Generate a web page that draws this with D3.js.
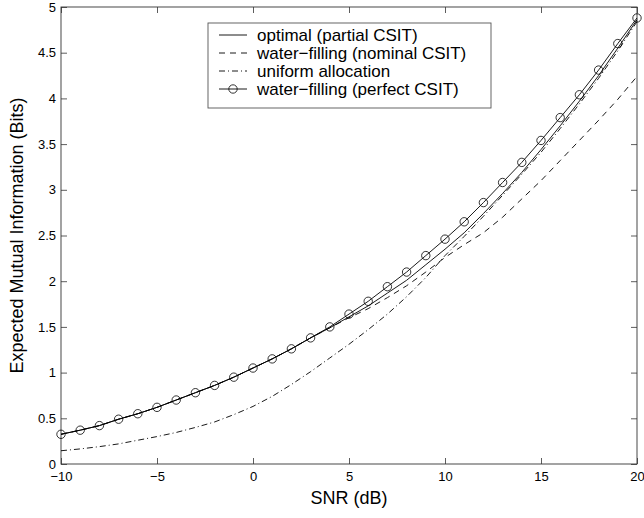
<!DOCTYPE html>
<html>
<head>
<meta charset="utf-8">
<script src="https://cdn.jsdelivr.net/npm/d3@7"></script>
<style>
  body { margin: 0; background: #fff; }
  svg { display: block; font-family: "Liberation Sans", Arial, Helvetica, sans-serif; }
</style>
</head>
<body>
<script>
// SNR grid in dB
var snr = d3.range(-10, 21, 1);

// water-filling with perfect CSIT (circles)
var perfectCsit = [0.325, 0.37, 0.42, 0.49, 0.55, 0.62, 0.70, 0.78, 0.86, 0.95,
  1.05, 1.15, 1.26, 1.38, 1.50, 1.64, 1.78, 1.94, 2.10, 2.28,
  2.46, 2.65, 2.86, 3.08, 3.30, 3.54, 3.79, 4.04, 4.31, 4.60, 4.88];

// optimal with partial CSIT (solid)
var optimalPartial = [0.325, 0.37, 0.42, 0.49, 0.55, 0.62, 0.70, 0.78, 0.86, 0.95,
  1.05, 1.15, 1.26, 1.38, 1.49, 1.61, 1.73, 1.87, 2.01, 2.18,
  2.35, 2.53, 2.74, 2.96, 3.19, 3.44, 3.70, 3.97, 4.25, 4.55, 4.86];

// water-filling with nominal CSIT (dashed)
var nominalCsit = [0.325, 0.37, 0.42, 0.49, 0.55, 0.62, 0.70, 0.78, 0.86, 0.95,
  1.05, 1.15, 1.26, 1.38, 1.49, 1.60, 1.70, 1.82, 1.95, 2.10,
  2.26, 2.40, 2.53, 2.70, 2.90, 3.10, 3.32, 3.54, 3.76, 3.99, 4.24];

// uniform allocation (dash-dot)
var uniformAlloc = [0.145, 0.165, 0.19, 0.22, 0.26, 0.30, 0.345, 0.40, 0.46, 0.54,
  0.63, 0.74, 0.87, 1.01, 1.16, 1.31, 1.47, 1.64, 1.83, 2.04,
  2.28, 2.49, 2.71, 2.94, 3.17, 3.41, 3.67, 3.94, 4.22, 4.52, 4.84];

var xTicks = [-10, -5, 0, 5, 10, 15, 20];
var yTicks = [0, 0.5, 1, 1.5, 2, 2.5, 3, 3.5, 4, 4.5, 5];

var legendLabels = ["optimal (partial CSIT)", "water\u2212filling (nominal CSIT)",
  "uniform allocation", "water\u2212filling (perfect CSIT)"];

var W = 644, H = 518;
var margin = { left: 61, right: 7, top: 7, bottom: 54 };
var pw = W - margin.left - margin.right, ph = H - margin.top - margin.bottom;

var svg = d3.select("body").append("svg").attr("width", W).attr("height", H);
var g = svg.append("g").attr("transform", "translate(" + margin.left + "," + margin.top + ")");

var x = d3.scaleLinear().domain([-10, 20]).range([0, pw]);
var y = d3.scaleLinear().domain([0, 5]).range([ph, 0]);

function fmt(d) { return String(d).replace("-", "\u2212"); }

// axes with inward ticks
var ax = g.append("g").attr("transform", "translate(0," + ph + ")")
  .call(d3.axisBottom(x).tickValues(xTicks).tickSize(-6).tickPadding(8).tickFormat(fmt));
var ay = g.append("g")
  .call(d3.axisLeft(y).tickValues(yTicks).tickSize(-6).tickPadding(5).tickFormat(fmt));
var axT = g.append("g")
  .call(d3.axisTop(x).tickValues(xTicks).tickSize(-6).tickFormat(""));
var ayR = g.append("g").attr("transform", "translate(" + pw + ",0)")
  .call(d3.axisRight(y).tickValues(yTicks).tickSize(-6).tickFormat(""));

[ax, ay, axT, ayR].forEach(function (a) {
  a.select(".domain").remove();
  a.selectAll(".tick line").attr("stroke", "#333").attr("stroke-width", 0.8);
  a.selectAll(".tick text").attr("fill", "#000").style("font-size", "13px")
    .style("font-family", "'Liberation Sans', Arial, sans-serif");
});
ay.selectAll(".tick text").attr("dy", "0.32em");

g.append("rect").attr("x", 0).attr("y", 0).attr("width", pw).attr("height", ph)
  .attr("fill", "none").attr("stroke", "#333").attr("stroke-width", 0.9);

// curves
var line = function (vals) {
  return d3.line().x(function (d, i) { return x(snr[i]); }).y(function (d) { return y(d); })(vals);
};
var series = [
  { v: optimalPartial, dash: null },
  { v: nominalCsit, dash: "6,5" },
  { v: uniformAlloc, dash: "6,3,1,3" },
  { v: perfectCsit, dash: null }
];
series.forEach(function (s) {
  g.append("path").attr("d", line(s.v)).attr("fill", "none").attr("stroke", "#000")
    .attr("stroke-width", 0.9).attr("stroke-dasharray", s.dash);
});
g.selectAll("circle.mk").data(perfectCsit).enter().append("circle").attr("class", "mk")
  .attr("cx", function (d, i) { return x(snr[i]); }).attr("cy", function (d) { return y(d); })
  .attr("r", 4.2).attr("fill", "none").attr("stroke", "#000").attr("stroke-width", 0.8);

// axis titles
svg.append("text").attr("x", margin.left + pw / 2).attr("y", 504).attr("text-anchor", "middle")
  .style("font-size", "18px").text("SNR (dB)");
svg.append("text").attr("transform", "translate(23," + (margin.top + ph / 2) + ") rotate(-90)")
  .attr("text-anchor", "middle").style("font-size", "18px")
  .text("Expected Mutual Information (Bits)");

// legend
var lg = svg.append("g");
lg.append("rect").attr("x", 208).attr("y", 23).attr("width", 283).attr("height", 85)
  .attr("fill", "#fff").attr("stroke", "#555").attr("stroke-width", 0.9);
legendLabels.forEach(function (lab, i) {
  var ly = 35 + i * 18;
  lg.append("line").attr("x1", 219).attr("x2", 247).attr("y1", ly).attr("y2", ly)
    .attr("stroke", "#000").attr("stroke-width", 0.9).attr("stroke-dasharray", series[i].dash);
  if (i === 3) {
    lg.append("circle").attr("cx", 233).attr("cy", ly).attr("r", 4.2)
      .attr("fill", "none").attr("stroke", "#000").attr("stroke-width", 0.8);
  }
  lg.append("text").attr("x", 257).attr("y", ly).attr("dy", "0.35em")
    .style("font-size", "17px").text(lab);
});
</script>
</body>
</html>
